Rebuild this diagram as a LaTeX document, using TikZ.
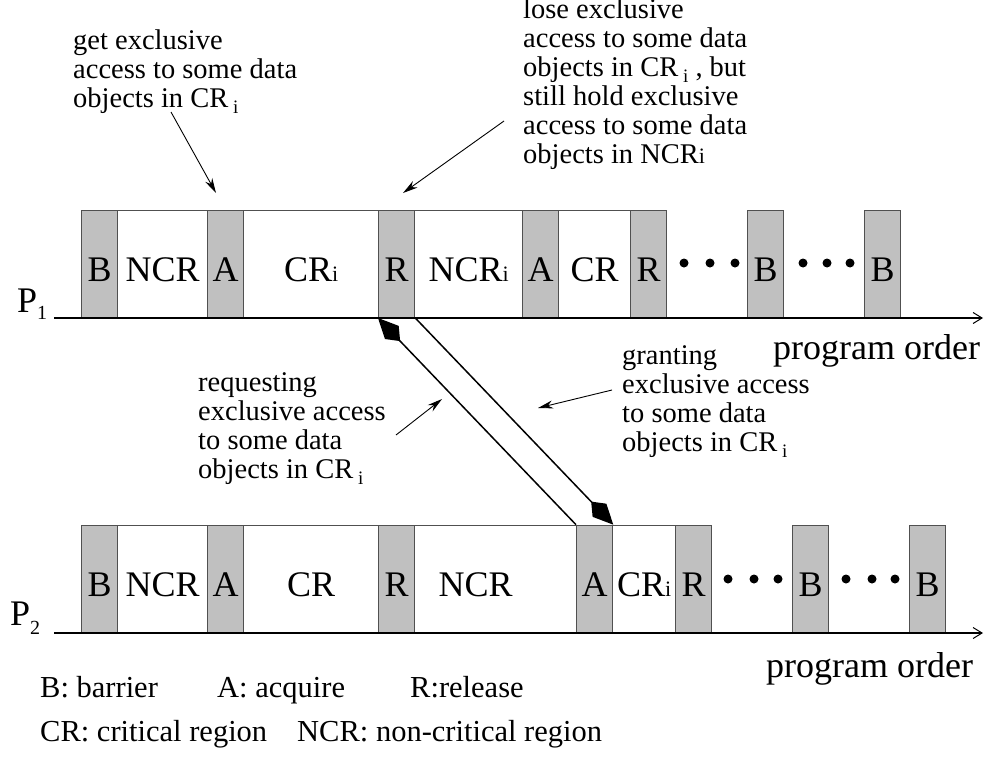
\documentclass[tikz,border=0pt]{standalone}
\usepackage{fontspec}
\setmainfont{Liberation Serif}
\usetikzlibrary{arrows.meta}

\definecolor{slotgray}{HTML}{C0C0C0}
\definecolor{edgegray}{HTML}{505050}

% lowered small index after a space, as in "CR i"
\newcommand\subi{\,\raisebox{-6pt}{\fontsize{19}{19}\selectfont i}}
% small index sitting on the baseline, as in "CRi"
\newcommand\smi{{\fontsize{22}{22}\selectfont i}}

\begin{document}
\begin{tikzpicture}[x=1pt,y=-1pt,
  slot/.style={draw=edgegray, line width=1.3pt, inner sep=0pt,
    minimum height=107pt, anchor=south west,
    text height=36pt, text depth=0pt, font=\fontsize{36}{36}\selectfont},
  sync/.style={slot, fill=slotgray},
  work/.style={slot, fill=white},
  axis/.style={line width=1.3pt, -{Straight Barb[length=9pt,width=11pt,line width=1pt]}},
  msg/.style={line width=1.5pt, -{Kite[length=32pt,width=19pt,inset=12pt]}},
  note/.style={anchor=north west, inner sep=0pt, align=left,
    font=\fontsize{28.5}{29}\selectfont},
  pointer/.style={line width=0.9pt, -{Stealth[length=15pt,width=8pt]}},
  dot/.style={circle, fill=black, inner sep=0pt, minimum size=9pt},
  big/.style={anchor=base west, inner sep=0pt, font=\fontsize{36}{36}\selectfont},
  legend/.style={anchor=base west, inner sep=0pt, font=\fontsize{30.5}{30.5}\selectfont},
]
\useasboundingbox (0,0) rectangle (984,763);

% ---------------- process P1 ----------------
\node[sync, minimum width=36pt]  (t1)  at (81,318)  {B};
\node[work, minimum width=90pt]  (t2)  at (117,318) {NCR};
\node[sync, minimum width=36pt]  (t3)  at (207,318) {A};
\node[work, minimum width=135pt] (t4)  at (243,318) {CR\smi};
\node[sync, minimum width=36pt]  (t5)  at (378,318) {R};
\node[work, minimum width=108pt] (t6)  at (414,318) {NCR\smi};
\node[sync, minimum width=36pt]  (t7)  at (522,318) {A};
\node[work, minimum width=72pt]  (t8)  at (558,318) {CR};
\node[sync, minimum width=36pt]  (t9)  at (630,318) {R};
\node[sync, minimum width=36pt]  (t10) at (747,318) {B};
\node[sync, minimum width=36pt]  (t11) at (864,318) {B};

\node[dot] (td1) at (684,263) {};
\node[dot] (td2) at (710,263) {};
\node[dot] (td3) at (735,263) {};
\node[dot] (td4) at (803,263) {};
\node[dot] (td5) at (827,263) {};
\node[dot] (td6) at (850,263) {};

\coordinate (a1s) at (54,318);
\coordinate (a1e) at (983,318);
\draw[axis] (a1s) -- (a1e);

\node[big] (p1) at (17,312) {P\raisebox{-7pt}{\fontsize{20}{20}\selectfont 1}};
\node[big] (o1) at (773,359) {program order};

% ---------------- process P2 ----------------
\node[sync, minimum width=36pt]  (b1)  at (81,633)  {B};
\node[work, minimum width=90pt]  (b2)  at (117,633) {NCR};
\node[sync, minimum width=36pt]  (b3)  at (207,633) {A};
\node[work, minimum width=135pt] (b4)  at (243,633) {CR};
\node[sync, minimum width=36pt]  (b5)  at (378,633) {R};
\node[work, minimum width=162pt] (b6)  at (414,633) {NCR\kern40pt};
\node[sync, minimum width=36pt]  (b7)  at (576,633) {A};
\node[work, minimum width=63pt]  (b8)  at (612,633) {CR\smi};
\node[sync, minimum width=36pt]  (b9)  at (675,633) {R};
\node[sync, minimum width=36pt]  (b10) at (792,633) {B};
\node[sync, minimum width=36pt]  (b11) at (909,633) {B};

\node[dot] (bd1) at (728,579) {};
\node[dot] (bd2) at (754,579) {};
\node[dot] (bd3) at (778,579) {};
\node[dot] (bd4) at (846,579) {};
\node[dot] (bd5) at (872,579) {};
\node[dot] (bd6) at (895,579) {};

\coordinate (a2s) at (54,633);
\coordinate (a2e) at (983,633);
\draw[axis] (a2s) -- (a2e);

\node[big] (p2) at (10,625) {P\raisebox{-9pt}{\fontsize{20}{20}\selectfont 2}};
\node[big] (o2) at (766,677) {program order};

% ---------------- request / grant messages ----------------
\draw[msg] (b7.north west) -- (t5.south west);
\draw[msg] (t5.south east) -- (b7.north east);

% ---------------- notes ----------------
\node[note] (n1) at (73,29.6) {get exclusive\\access to some data\\objects in CR\subi};
\node[note] (n2) at (523,-1.4) {lose exclusive\\access to some data\\objects in CR\subi\ , but\\still hold exclusive\\access to some data\\objects in NCR\smi};
\node[note] (n3) at (198,372.6) {requesting\\exclusive access\\to some data\\objects in CR\subi};
\node[note] (n4) at (622,345.6) {granting\\exclusive access\\to some data\\objects in CR\subi};

\coordinate (q1s) at (171,112);
\coordinate (q1e) at (216,193);
\coordinate (q2s) at (504,121);
\coordinate (q2e) at (403,193);
\coordinate (q3s) at (396,435);
\coordinate (q3e) at (442,399);
\coordinate (q4s) at (612,390);
\coordinate (q4e) at (538,408);
\draw[pointer] (q1s) -- (q1e);
\draw[pointer] (q2s) -- (q2e);
\draw[pointer] (q3s) -- (q3e);
\draw[pointer] (q4s) -- (q4e);

% ---------------- legend ----------------
\node[legend] (l1) at (40,697) {B: barrier};
\node[legend] (l2) at (217,697) {A: acquire};
\node[legend] (l3) at (410,697) {R:release};
\node[legend] (l4) at (40,741) {CR: critical region};
\node[legend] (l5) at (297,741) {NCR: non-critical region};
\end{tikzpicture}
\end{document}
